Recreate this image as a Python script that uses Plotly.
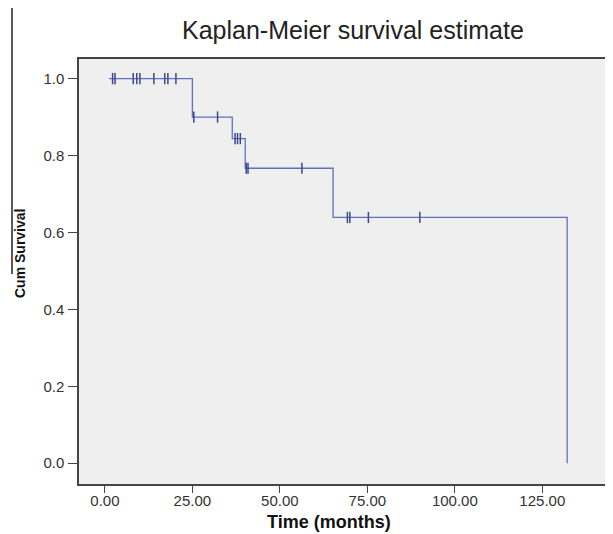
import plotly.graph_objects as go

# ---- data ----
step_times = [1.2, 25.0, 36.4, 40.1, 65.2, 132.1]      # months: curve start, then event times
step_surv = [1.0, 0.900, 0.844, 0.767, 0.639, 0.0]     # cumulative survival after each step
censor_times = [2.2, 2.9, 8.1, 9.1, 10.0, 14.0, 17.1, 18.0, 20.3,
                25.4, 32.2,
                37.2, 37.9, 38.7,
                40.4, 40.9, 56.3,
                69.3, 70.0, 75.3, 90.0]
x_ticks = [0, 25, 50, 75, 100, 125]
x_tick_labels = ["0.00", "25.00", "50.00", "75.00", "100.00", "125.00"]
y_ticks = [0.0, 0.2, 0.4, 0.6, 0.8, 1.0]
y_tick_labels = ["0.0", "0.2", "0.4", "0.6", "0.8", "1.0"]

# survival at each censored time (step function lookup)
def surv_at(t):
    s = step_surv[0]
    for tt, ss in zip(step_times, step_surv):
        if tt <= t:
            s = ss
    return s

censor_surv = [surv_at(t) for t in censor_times]

LINE = "#6371bc"
MARK = "#3a4a8c"
FONT = "Liberation Sans, Arial, sans-serif"

fig = go.Figure()
fig.add_trace(go.Scatter(
    x=step_times, y=step_surv, mode="lines",
    line=dict(color=LINE, width=1.3, shape="hv"),
    showlegend=False, hoverinfo="skip"))
fig.add_trace(go.Scatter(
    x=censor_times, y=censor_surv, mode="markers",
    marker=dict(symbol="line-ns", size=8, line=dict(color=MARK, width=1.5)),
    showlegend=False))

# page has an 8px body margin: figure placed at (8, 8) in the window
OFF = 8
W, H = 613 - OFF, 534 - OFF
L, R, T = 79 - OFF, 0, 59 - OFF
PB = 484 - OFF              # plot bottom in figure px
B = H - PB
pw, ph = W - L - R, PB - T
def px(x):                  # window px -> paper x
    return (x - OFF - L) / pw
def py(y):                  # window px -> paper y
    return (PB - (y - OFF)) / ph

fig.update_layout(
    width=W, height=H,
    margin=dict(l=L, r=R, t=T, b=B, pad=0),
    paper_bgcolor="white", plot_bgcolor="#efefef",
    font=dict(family=FONT, color="#333333"),
    xaxis=dict(range=[-7.4, 145.2], tickvals=x_ticks, ticktext=x_tick_labels,
               showgrid=False, zeroline=False, showline=True, mirror=True,
               linecolor="#444444", linewidth=1.5, ticks="outside", ticklen=7,
               tickcolor="#444444", tickwidth=1.3, ticklabelstandoff=-5,
               tickfont=dict(size=15, color="#333333", family=FONT)),
    yaxis=dict(range=[-0.054, 1.051], tickvals=y_ticks, ticktext=y_tick_labels,
               showgrid=False, zeroline=False, showline=True, mirror=False,
               linecolor="#444444", linewidth=1.5, ticks="outside", ticklen=9,
               tickcolor="#444444", tickwidth=1.3, ticklabelstandoff=1,
               tickfont=dict(size=15, color="#333333", family=FONT)),
    annotations=[
        dict(text="Kaplan-Meier survival estimate", xref="paper", yref="paper",
             x=px(353), y=py(30), xanchor="center", yanchor="middle",
             showarrow=False, font=dict(size=25, color="#222222", family=FONT)),
        dict(text="<b>Time (months)</b>", xref="paper", yref="paper",
             x=px(329), y=py(522), xanchor="center", yanchor="middle",
             showarrow=False, font=dict(size=18, color="#111111", family=FONT)),
        dict(text="<b>Cum Survival</b>", xref="paper", yref="paper",
             x=px(20), y=py(254), xanchor="center", yanchor="middle", textangle=-90,
             showarrow=False, font=dict(size=14, color="#111111", family=FONT)),
    ],
    shapes=[
        dict(type="line", xref="paper", yref="paper",
             x0=px(12), x1=px(12), y0=py(274), y1=py(8),
             line=dict(color="black", width=1.3)),
    ],
)

fig.write_html("out.html")
